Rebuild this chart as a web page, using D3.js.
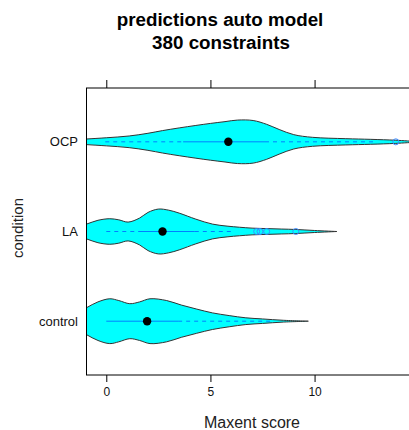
<!DOCTYPE html>
<html>
<head>
<meta charset="utf-8">
<script src="https://cdn.jsdelivr.net/npm/d3@7"></script>
<style>
  body { margin: 0; background: #fff; }
  text { font-family: "Liberation Sans", Arial, sans-serif; }
</style>
</head>
<body>
<div id="chart-area"></div>
<script>
// categories, bottom to top
const categories = ["control", "LA", "OCP"];

// violin outlines: score grid and relative density (1 = widest)
const controlScore   = [-1.5, -0.95, -0.4, 0.17, 0.6, 1.13, 1.6, 2.1, 2.9, 3.6, 4.34, 5.1, 5.9, 6.7, 7.5, 8.5, 9.7];
const controlDensity = [0.3, 0.6, 0.86, 1.0, 0.92, 0.78, 0.86, 1.0, 0.92, 0.72, 0.54, 0.37, 0.25, 0.15, 0.1, 0.04, 0];
const laScore   = [-1.5, -0.95, -0.4, 0.17, 0.6, 1.05, 1.6, 2.0, 2.5, 3.0, 3.5, 4.3, 5.1, 5.8, 6.4, 7.0, 7.7, 8.4, 9.1, 10.0, 11.07];
const laDensity = [0.18, 0.33, 0.5, 0.57, 0.52, 0.42, 0.6, 0.85, 1.0, 0.95, 0.82, 0.55, 0.33, 0.24, 0.19, 0.15, 0.13, 0.11, 0.09, 0.045, 0];
const ocpScore   = [-1.5, -0.95, 0, 1.1, 2, 2.7, 3.5, 4.3, 5, 5.7, 6.3, 7.05, 7.7, 8.3, 9, 9.9, 11.5, 12.7, 13.9, 14.8];
const ocpDensity = [0.09, 0.125, 0.18, 0.26, 0.38, 0.5, 0.62, 0.73, 0.82, 0.9, 0.97, 0.95, 0.78, 0.55, 0.32, 0.2, 0.14, 0.11, 0.07, 0.02];

// box statistics per category: lower whisker, Q1, median, Q3, upper whisker
const whiskerLow  = [0.0, 0.0, -0.05];
const q1          = [0.0, 1.53, 3.69];
const medians     = [1.96, 2.70, 5.86];
const q3          = [3.45, 4.25, 7.62];
const whiskerHigh = [7.9, 6.02, 12.9];
const outliers    = [[], [7.22, 7.38, 7.70, 9.10], [13.9]];

const xTicks = [0, 5, 10];

const violins = [
  { score: controlScore, density: controlDensity },
  { score: laScore, density: laDensity },
  { score: ocpScore, density: ocpDensity }
];

const svgWidth = 409;
const svgHeight = 430;
const panel = { left: 86.5, right: 411, top: 88, bottom: 375 };

const svg = d3.select("#chart-area")
  .append("svg")
  .attr("width", svgWidth)
  .attr("height", svgHeight);

const x = d3.scaleLinear()
  .domain([-0.95, 14.63])
  .range([panel.left, panel.right]);

const y = d3.scaleLinear()
  .domain([0.4, 3.6])
  .range([panel.bottom, panel.top]);

// half of box.ratio/(1+box.ratio) in category units
const halfWidth = d3.scaleLinear()
  .domain([0, 1])
  .range([0, y(0.4) - y(0.65)]);

svg.append("clipPath")
  .attr("id", "panel-clip")
  .append("rect")
  .attr("x", panel.left)
  .attr("y", panel.top)
  .attr("width", panel.right - panel.left)
  .attr("height", panel.bottom - panel.top);

const plot = svg.append("g").attr("clip-path", "url(#panel-clip)");

categories.forEach((cat, i) => {
  const cy = y(i + 1);
  const pts = violins[i].score.map((s, k) => ({ s: s, d: violins[i].density[k] }));

  const area = d3.area()
    .x(d => x(d.s))
    .y0(d => cy + halfWidth(d.d))
    .y1(d => cy - halfWidth(d.d))
    .curve(d3.curveCatmullRom.alpha(0.5));

  plot.append("path")
    .attr("d", area(pts))
    .attr("fill", "#00ffff")
    .attr("stroke", "#333")
    .attr("stroke-width", 1);

  // whiskers
  plot.append("line")
    .attr("x1", x(whiskerLow[i])).attr("x2", x(q1[i]))
    .attr("y1", cy).attr("y2", cy)
    .attr("stroke", "#0080ff")
    .attr("stroke-dasharray", "4,4");
  plot.append("line")
    .attr("x1", x(q3[i])).attr("x2", x(whiskerHigh[i]))
    .attr("y1", cy).attr("y2", cy)
    .attr("stroke", "#0080ff")
    .attr("stroke-dasharray", "4,4");

  // box
  plot.append("line")
    .attr("x1", x(q1[i])).attr("x2", x(q3[i]))
    .attr("y1", cy).attr("y2", cy)
    .attr("stroke", "#0080ff");

  plot.selectAll(null)
    .data(outliers[i])
    .enter()
    .append("circle")
    .attr("cx", d => x(d))
    .attr("cy", cy)
    .attr("r", 3)
    .attr("fill", "none")
    .attr("stroke", "#3a8cff");

  plot.append("circle")
    .attr("cx", x(medians[i]))
    .attr("cy", cy)
    .attr("r", 4.2)
    .attr("fill", "black");
});

// panel border
svg.append("rect")
  .attr("x", panel.left)
  .attr("y", panel.top)
  .attr("width", panel.right - panel.left)
  .attr("height", panel.bottom - panel.top)
  .attr("fill", "none")
  .attr("stroke", "black");

// x axes bottom and top
const xAxisBottom = d3.axisBottom(x).tickValues(xTicks).tickSize(7).tickPadding(5);
svg.append("g")
  .attr("transform", `translate(0,${panel.bottom})`)
  .call(xAxisBottom)
  .call(g => g.select(".domain").remove())
  .call(g => g.selectAll("text").attr("font-size", 12).attr("font-family", "Liberation Sans, Arial, sans-serif").attr("fill", "#111"));

const xAxisTop = d3.axisTop(x).tickValues(xTicks).tickSize(8).tickFormat("");
svg.append("g")
  .attr("transform", `translate(0,${panel.top})`)
  .call(xAxisTop)
  .call(g => g.select(".domain").remove());

// y category labels
svg.selectAll(".ylab")
  .data(categories)
  .enter()
  .append("text")
  .attr("class", "ylab")
  .attr("x", 78)
  .attr("y", (d, i) => y(i + 1))
  .attr("dy", "0.35em")
  .attr("text-anchor", "end")
  .attr("font-size", 13)
  .attr("fill", "#111")
  .text(d => d);

// titles
svg.append("text")
  .attr("x", 220).attr("y", 26)
  .attr("text-anchor", "middle")
  .attr("font-size", 18.8).attr("font-weight", "bold")
  .text("predictions auto model");
svg.append("text")
  .attr("x", 221).attr("y", 49)
  .attr("text-anchor", "middle")
  .attr("font-size", 18.8).attr("font-weight", "bold")
  .text("380 constraints");

svg.append("text")
  .attr("x", 252).attr("y", 428)
  .attr("text-anchor", "middle")
  .attr("font-size", 16)
  .attr("fill", "#222")
  .text("Maxent score");

svg.append("text")
  .attr("transform", "translate(23,228) rotate(-90)")
  .attr("text-anchor", "middle")
  .attr("font-size", 15)
  .attr("fill", "#222")
  .text("condition");
</script>
</body>
</html>
